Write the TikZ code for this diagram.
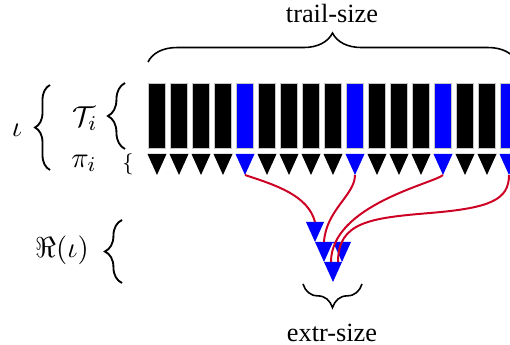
\documentclass[tikz,border=0pt]{standalone}
\usepackage{fontspec}
\setmainfont{Liberation Serif}
\usetikzlibrary{decorations.pathreplacing}
\definecolor{linkred}{RGB}{205,0,35}
\definecolor{pureblue}{RGB}{0,0,255}
\begin{document}
\begin{tikzpicture}[x=0.38pt,y=-0.38pt,
  cell/.style={draw=gray!45,line width=0.3pt},
  link/.style={draw=linkred,line width=0.75pt},
  curly/.style={decorate,decoration={brace,amplitude=#1},line width=0.6pt},
  mathlbl/.style={font=\fontsize{11.4}{13}\selectfont,inner sep=0pt},
  txt/.style={inner sep=0pt}]
\useasboundingbox (0,0) rectangle (510,345);

% trail: cells with their pointers underneath
\foreach \i/\c in {0/black,1/black,2/black,3/black,4/pureblue,5/black,6/black,7/black,8/black,9/pureblue,10/black,11/black,12/black,13/pureblue,14/black,15/black,16/pureblue}{
  \path[cell,fill=\c] ({148.5+22*\i},83.5) rectangle ++(17,65);
  \fill[\c] ({147.5+22*\i},154) -- ++(19,0) -- ++(-9.5,21) -- cycle;
  \coordinate (tip\i) at ({157+22*\i},175);
}

% extracted triangles
\foreach \n/\x/\y in {A/306/222, B/315/242, C/333/242, D/324/262}{
  \fill[pureblue] (\x,\y) -- ++(18,0) -- ++(-9,20) -- cycle;
  \coordinate (\n) at ({\x+9},\y);
}
\coordinate (Dl) at (331,262);
\coordinate (Dr) at (338,262);

% links
\draw[link] (tip4) .. controls (275,185) and (308,195) .. (A);
\draw[link] (tip9) .. controls (355,195) and (326,210) .. (B);
\draw[link] (tip13) .. controls (435,183) and (331,205) .. (Dl);
\draw[link] (tip16) .. controls (509,200) and (490,208) .. (430,213)
                    .. controls (370,218) and (338,222) .. (Dr);

% braces and labels
\draw[curly=11pt] (148,62) -- (517,62);
\node[txt] (trail) at (332,14) {trail-size};
\draw[curly=9pt] (362,284) -- (303,284);
\node[txt] (extr) at (332,333) {extr-size};

\draw[curly=5.7pt,line width=0.7pt] (50,170) -- (50,85);
\node[mathlbl] (iota) at (17,130) {$\iota$};
\draw[curly=6.5pt,line width=0.7pt] (125,149) -- (125,83);
\node[mathlbl] (Ti) at (85,119) {$\mathcal{T}_i$};
\node[mathlbl] (pii) at (84,163) {$\pi_i$};
\node[inner sep=0pt] (smallbrace) at (128,164) {\footnotesize$\{$};
\draw[curly=6.5pt,line width=0.7pt] (122,283) -- (122,220);
\node[mathlbl] (Rlbl) at (62,250) {$\Re(\iota)$};
\end{tikzpicture}
\end{document}
